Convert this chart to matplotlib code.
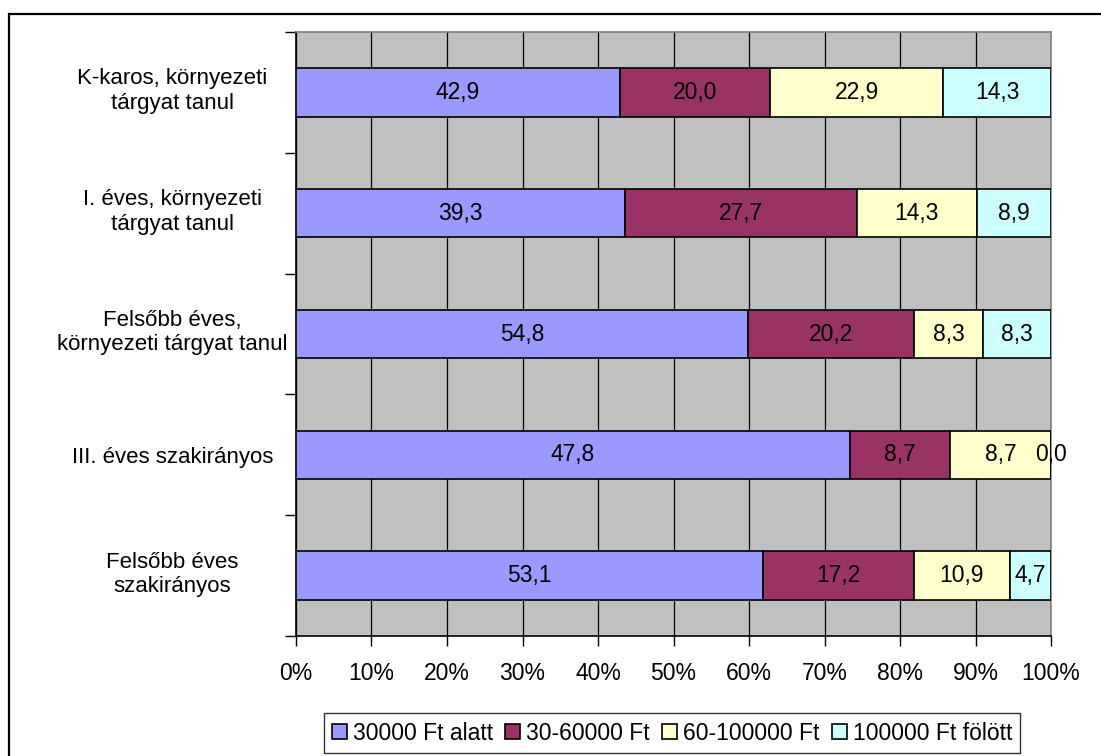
import matplotlib
matplotlib.use("Agg")
import matplotlib.pyplot as plt
import matplotlib.transforms as mtransforms
import numpy as np
from matplotlib.patches import Rectangle

plt.rcParams['font.family'] = ['Liberation Sans', 'DejaVu Sans']

categories = [
    "K-karos, környezeti\ntárgyat tanul",
    "I. éves, környezeti\ntárgyat tanul",
    "Felsőbb éves,\nkörnyezeti tárgyat tanul",
    "III. éves szakirányos",
    "Felsőbb éves\nszakirányos",
]
series_names = ["30000 Ft alatt", "30-60000 Ft", "60-100000 Ft", "100000 Ft fölött"]
s1 = [42.9, 39.3, 54.8, 47.8, 53.1]
s2 = [20.0, 27.7, 20.2, 8.7, 17.2]
s3 = [22.9, 14.3, 8.3, 8.7, 10.9]
s4 = [14.3, 8.9, 8.3, 0.0, 4.7]
colors = ["#9999FF", "#993366", "#FFFFCC", "#CCFFFF"]
xticklabels = ["0%", "10%", "20%", "30%", "40%", "50%", "60%", "70%", "80%", "90%", "100%"]

FS = 16.5
W, H = 1101, 756
fig = plt.figure(figsize=(W / 100, H / 100), dpi=100)

# outer chart border (left and top visible)
fig.add_artist(Rectangle((9 / W, -0.1), 1.2, 1 - 14 / H + 0.1, transform=fig.transFigure,
                         fill=False, edgecolor="black", linewidth=1.6))

ax = fig.add_axes([296 / W, 1 - 636 / H, (1051 - 296) / W, (636 - 32) / H])
ax.set_facecolor("#C0C0C0")

data = np.array([s1, s2, s3, s4])
totals = data.sum(axis=0)
pct = data / totals * 100
n = len(categories)
y = np.arange(n)[::-1]

left = np.zeros(n)
for i in range(4):
    ax.barh(y, pct[i], left=left, height=0.4, color=colors[i], edgecolor="black",
            linewidth=1.2, label=series_names[i], zorder=3)
    for j in range(n):
        cx = left[j] + pct[i][j] / 2
        ax.text(cx, y[j], f"{data[i][j]:.1f}".replace(".", ","), ha="center", va="center",
                fontsize=FS, color="black", zorder=5)
    left = left + pct[i]

ax.set_xlim(0, 100)
ax.set_ylim(-0.5, n - 0.5)
ax.set_xticks(np.arange(0, 101, 10))
ax.set_xticklabels(xticklabels, fontsize=FS)
ax.set_yticks(y)
ax.set_yticklabels(categories, fontsize=16, ha="center", multialignment="center",
                   linespacing=1.22)
ax.tick_params(axis="y", which="major", length=0, pad=89)
ax.set_yticks(np.arange(-0.5, n, 1), minor=True)
ax.tick_params(axis="y", which="minor", length=8, width=1, direction="out")
ax.tick_params(axis="x", length=7, width=1, direction="out", pad=12)
ax.grid(axis="x", color="black", linewidth=0.9, zorder=1)
ax.set_axisbelow(True)

up = mtransforms.ScaledTranslation(0, 4 / 72, fig.dpi_scale_trans)
for lab in ax.get_yticklabels():
    if "\n" in lab.get_text():
        lab.set_transform(lab.get_transform() + up)

for side in ["top", "right"]:
    ax.spines[side].set_color("#808080")
    ax.spines[side].set_linewidth(1.2)
for side in ["left", "bottom"]:
    ax.spines[side].set_color("black")
    ax.spines[side].set_linewidth(1.2)

leg = fig.legend(loc="center", bbox_to_anchor=(672 / W, 1 - 733 / H), ncol=4, fontsize=FS,
                 frameon=True, fancybox=False, edgecolor="black", handlelength=0.65,
                 handleheight=0.65, handletextpad=0.25, columnspacing=0.55, borderpad=0.35)
leg.get_frame().set_linewidth(1.0)

fig.savefig("out.png", dpi=100)
